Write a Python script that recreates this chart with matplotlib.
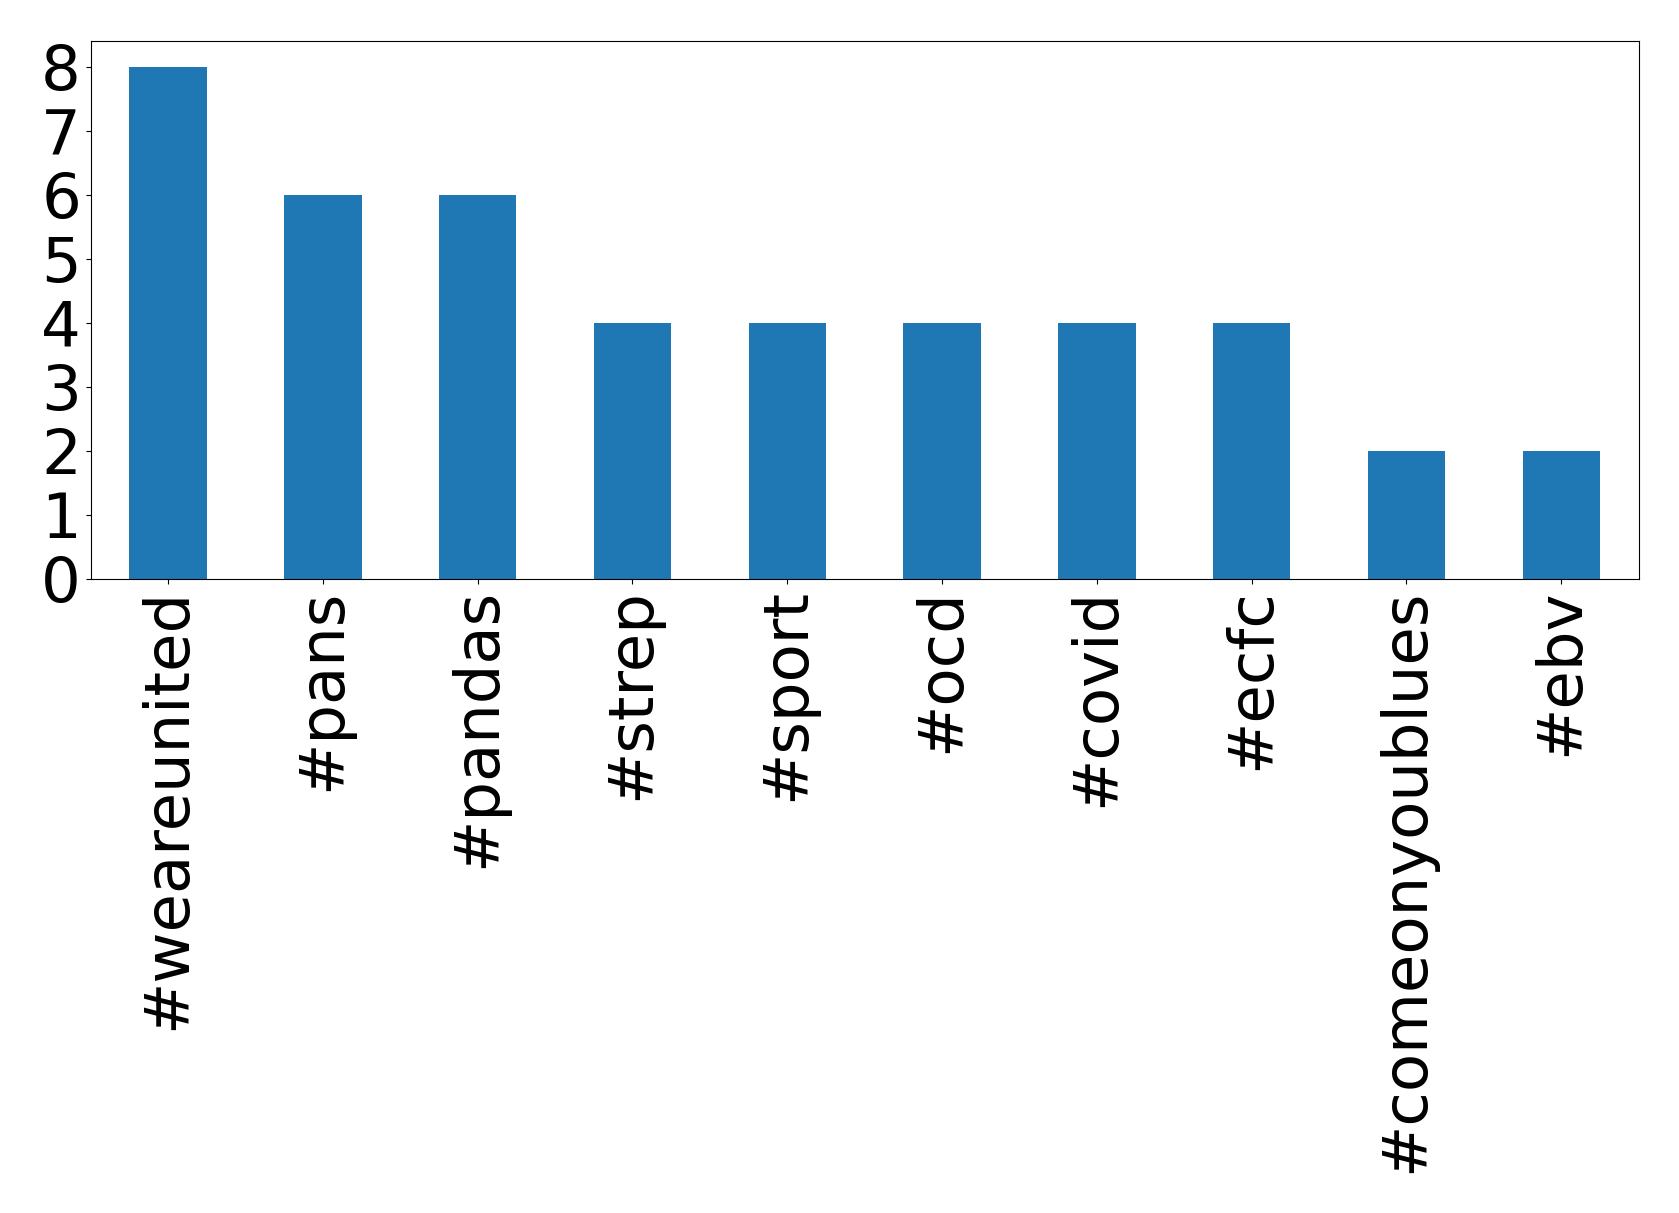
import matplotlib
matplotlib.use("Agg")
import matplotlib.pyplot as plt

tags = ["#weareunited", "#pans", "#pandas", "#strep", "#sport", "#ocd",
        "#covid", "#ecfc", "#comeonyoublues", "#ebv"]
counts = [8, 6, 6, 4, 4, 4, 4, 4, 2, 2]

fig = plt.figure(figsize=(16.79, 12.13), dpi=100)
ax = fig.add_axes([0.054, 0.523, 0.922, 0.443])
x = list(range(len(tags)))
ax.bar(x, counts, width=0.5, color="#1f77b4")
ax.set_xlim(-0.5, len(tags) - 0.5)
ax.set_ylim(0, 8.4)
ax.set_xticks(x)
ax.set_xticklabels(tags, rotation=90, fontsize=45)
ax.set_yticks(range(0, 9))
ax.tick_params(axis="y", labelsize=45)
fig.savefig("out.png", dpi=100)
